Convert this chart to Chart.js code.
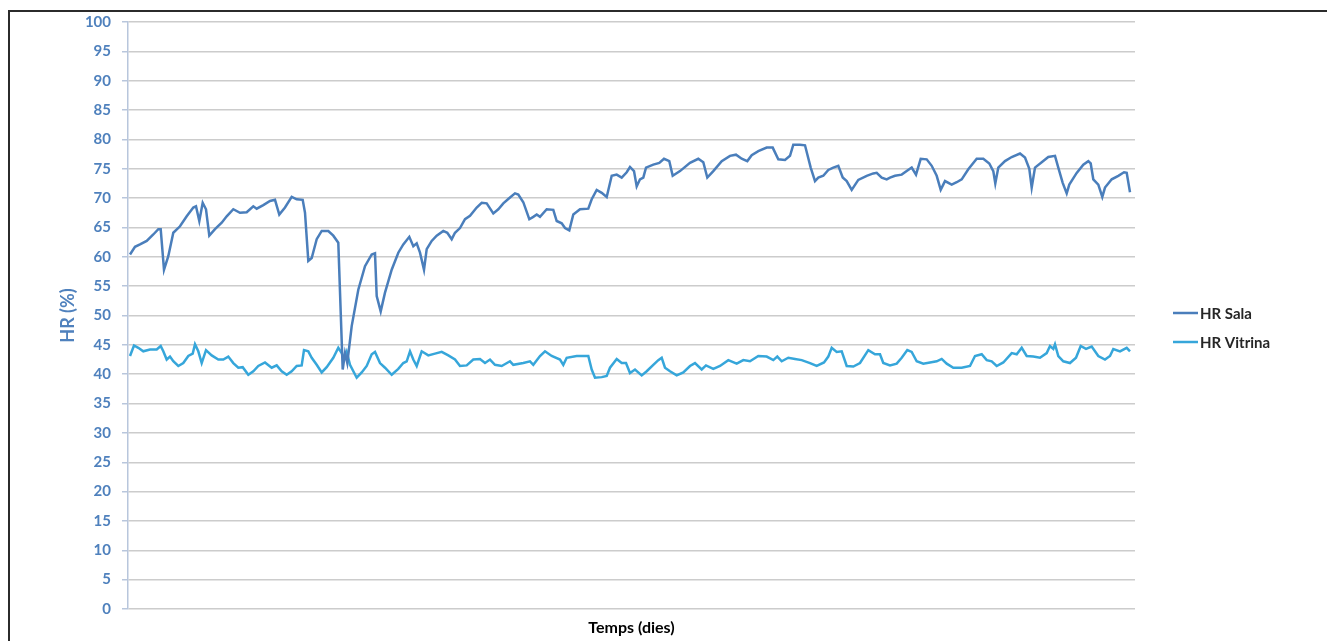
<!DOCTYPE html>
<html lang="ca">

<head>
    <meta charset="UTF-8">
    <title>HR Sala / HR Vitrina</title>
    <style>
        body {
            margin: 0;
            background: #fff;
        }
        #frame {
            position: absolute;
            left: 8px;
            top: 10px;
            width: 1400px;
            height: 700px;
            border-left: 2px solid #2b2b2b;
            border-top: 2px solid #2b2b2b;
        }
        #hrChart {
            position: absolute;
            left: 0;
            top: 0;
        }
    </style>
</head>

<body>
    <div id="frame"></div>
    <canvas id="hrChart" width="1327" height="641"></canvas>

    <script src="https://cdn.jsdelivr.net/npm/chart.js"></script>

    <script>
        // temps (dies, escala aproximada) i humitat relativa (%)
        const salaT = [0.2, 0.7, 1.2, 1.87, 2.53, 3.03, 3.27, 3.6, 4.03, 4.53, 5.2, 5.87, 6.53, 6.8, 7.13, 7.47, 7.8, 8.13, 8.7, 9.37,
            9.87, 10.53, 11.2, 11.87, 12.53, 12.87, 13.53, 14.2, 14.7, 15.13, 15.7, 16.37, 16.87, 17.47, 17.7, 18.03, 18.37, 18.87, 19.37, 20.03,
            20.53, 21.03, 21.47, 21.7, 21.93, 22.37, 23.03, 23.7, 24.37, 24.7, 24.87, 25.27, 25.7, 26.37, 27.03, 27.53, 28.13, 28.53, 28.87, 29.2,
            29.6, 29.87, 30.37, 30.87, 31.53, 31.93, 32.37, 32.7, 33.2, 33.7, 34.2, 34.87, 35.37, 35.87, 36.53, 37.03, 37.53, 38.2, 38.7, 39.03,
            39.53, 40.13, 40.53, 40.87, 41.2, 41.87, 42.53, 42.87, 43.37, 43.7, 44.13, 44.53, 45.2, 46.03, 46.37, 46.87, 47.37, 47.87, 48.37, 48.87,
            49.37, 49.87, 50.2, 50.6, 50.87, 51.2, 51.53, 51.8, 52.53, 53.13, 53.6, 54.13, 54.47, 55.2, 56.2, 57.03, 57.53, 57.93, 58.53, 59.37,
            60.2, 60.8, 61.37, 61.93, 62.37, 63.03, 63.87, 64.47, 65.03, 65.7, 66.2, 66.53, 67.2, 67.7, 68.27, 68.7, 69.03, 69.53, 70.03, 70.53,
            71.03, 71.47, 71.87, 72.37, 73.03, 73.87, 74.53, 74.87, 75.37, 75.87, 76.2, 76.7, 77.37, 77.87, 78.37, 78.8, 79.27, 79.87, 80.37, 80.87,
            81.27, 81.7, 82.37, 82.87, 83.37, 84.03, 84.87, 85.53, 86.13, 86.53, 86.73, 87.03, 87.7, 88.37, 89.2, 89.7, 90.13, 90.37, 90.7, 91.37,
            92.03, 92.7, 93.03, 93.47, 93.87, 94.13, 94.87, 95.53, 96.03, 96.27, 96.53, 97.03, 97.43, 97.7, 98.37, 99.03, 99.6, 99.87, 100.2];
        const salaHR = [60.4, 61.7, 62.1, 62.7, 63.8, 64.7, 64.7, 57.8, 60.1, 64.1, 65.2, 66.9, 68.4, 68.6, 66.1, 69.2, 68.1, 63.6, 64.7, 65.8,
            66.9, 68.1, 67.5, 67.6, 68.6, 68.2, 68.8, 69.5, 69.7, 67.2, 68.4, 70.2, 69.8, 69.7, 67.5, 59.3, 59.8, 63.0, 64.4, 64.4,
            63.6, 62.4, 40.8, 43.6, 41.9, 48.2, 54.4, 58.4, 60.4, 60.6, 53.3, 50.7, 53.9, 57.8, 60.7, 62.1, 63.4, 61.8, 62.3, 60.7,
            57.8, 61.3, 62.7, 63.6, 64.4, 64.1, 63.0, 64.1, 64.9, 66.4, 67.0, 68.4, 69.2, 69.1, 67.4, 68.1, 69.1, 70.1, 70.8, 70.6,
            69.3, 66.4, 66.8, 67.2, 66.8, 68.1, 68.0, 66.1, 65.7, 64.9, 64.5, 67.2, 68.1, 68.2, 69.8, 71.4, 70.9, 70.2, 73.8, 74.0,
            73.5, 74.4, 75.3, 74.6, 72.0, 73.2, 73.5, 75.2, 75.7, 76.0, 76.7, 76.3, 73.8, 74.6, 76.0, 76.7, 76.1, 73.5, 74.6, 76.3,
            77.2, 77.4, 76.7, 76.3, 77.3, 78.0, 78.6, 78.6, 76.6, 76.5, 77.2, 79.1, 79.1, 79.0, 75.2, 72.9, 73.5, 73.8, 74.8, 75.2,
            75.5, 73.5, 72.9, 71.4, 73.1, 73.8, 74.2, 74.3, 73.5, 73.2, 73.5, 73.8, 74.0, 74.6, 75.2, 74.0, 76.7, 76.6, 75.5, 73.8,
            71.4, 72.9, 72.3, 72.7, 73.2, 74.9, 76.7, 76.7, 75.9, 74.6, 72.5, 75.2, 76.3, 77.0, 77.6, 76.9, 75.0, 71.8, 75.2, 76.1,
            77.0, 77.2, 75.2, 72.6, 70.8, 72.3, 74.3, 75.7, 76.3, 75.9, 73.2, 72.3, 70.2, 71.8, 73.2, 73.8, 74.4, 74.3, 71.0];

        const vitT = [0.2, 0.6, 1.03, 1.53, 2.2, 2.87, 3.27, 3.53, 3.87, 4.2, 4.53, 5.03, 5.53, 6.03, 6.47, 6.7, 7.03, 7.37, 7.8, 8.37,
            9.03, 9.53, 10.03, 10.53, 11.03, 11.47, 12.03, 12.53, 13.03, 13.7, 14.37, 14.87, 15.37, 15.87, 16.37, 16.87, 17.37, 17.6, 18.03, 18.37,
            18.87, 19.37, 19.87, 20.53, 21.03, 21.37, 21.6, 21.87, 22.2, 22.87, 23.37, 23.87, 24.37, 24.7, 25.2, 25.7, 26.37, 27.03, 27.53, 27.87,
            28.2, 28.53, 28.87, 29.37, 30.03, 30.7, 31.37, 32.03, 32.7, 33.2, 33.87, 34.53, 35.2, 35.7, 36.2, 36.7, 37.37, 38.2, 38.53, 39.53,
            40.2, 40.53, 41.2, 41.7, 42.37, 43.2, 43.53, 43.87, 44.87, 46.03, 46.37, 46.7, 47.37, 47.87, 48.2, 48.87, 49.37, 49.8, 50.2, 50.7,
            51.37, 51.87, 52.53, 53.03, 53.37, 53.7, 54.2, 54.87, 55.53, 56.2, 56.7, 57.37, 57.8, 58.53, 59.2, 60.03, 60.87, 61.53, 62.2, 63.03,
            63.87, 64.53, 64.93, 65.37, 66.03, 66.7, 67.37, 68.2, 68.87, 69.6, 70.03, 70.37, 70.87, 71.37, 71.87, 72.53, 73.2, 74.03, 74.7, 75.2,
            75.53, 76.2, 76.87, 77.37, 77.93, 78.37, 78.87, 79.53, 80.2, 80.87, 81.37, 81.87, 82.53, 83.37, 84.2, 84.7, 85.37, 85.87, 86.37, 86.87,
            87.53, 88.37, 88.87, 89.37, 89.87, 90.53, 91.2, 91.87, 92.2, 92.53, 92.7, 93.03, 93.53, 94.2, 94.8, 95.27, 95.8, 96.37, 97.03, 97.7,
            98.2, 98.53, 99.2, 99.87, 100.2];
        const vitHR = [43.1, 44.9, 44.5, 43.9, 44.2, 44.2, 44.8, 43.9, 42.5, 43.0, 42.2, 41.4, 41.9, 43.1, 43.5, 45.1, 43.9, 41.9, 44.1, 43.2,
            42.5, 42.5, 43.0, 41.9, 41.1, 41.2, 39.9, 40.5, 41.4, 42.0, 41.1, 41.5, 40.5, 39.9, 40.5, 41.4, 41.5, 44.1, 43.9, 42.8,
            41.6, 40.3, 41.2, 42.8, 44.5, 43.6, 42.5, 43.8, 41.6, 39.4, 40.3, 41.4, 43.4, 43.8, 41.9, 41.1, 39.9, 40.9, 41.9, 42.2,
            43.9, 42.5, 41.4, 43.9, 43.2, 43.5, 43.8, 43.2, 42.5, 41.4, 41.5, 42.5, 42.6, 41.9, 42.5, 41.6, 41.4, 42.2, 41.6, 41.9,
            42.2, 41.6, 43.1, 43.9, 43.1, 42.5, 41.6, 42.8, 43.1, 43.1, 40.8, 39.4, 39.5, 39.7, 41.1, 42.6, 41.9, 41.9, 40.2, 40.8,
            39.8, 40.5, 41.6, 42.4, 42.8, 41.1, 40.5, 39.8, 40.3, 41.4, 41.9, 40.8, 41.5, 40.9, 41.4, 42.4, 41.8, 42.4, 42.2, 43.1,
            43.0, 42.4, 43.0, 42.2, 42.8, 42.6, 42.4, 41.9, 41.4, 42.0, 43.0, 44.5, 43.8, 43.9, 41.4, 41.3, 41.9, 44.1, 43.4, 43.4,
            41.9, 41.5, 41.8, 42.8, 44.1, 43.8, 42.2, 41.8, 42.0, 42.2, 42.6, 41.8, 41.1, 41.1, 41.4, 43.1, 43.4, 42.4, 42.2, 41.4,
            42.0, 43.6, 43.4, 44.5, 43.1, 43.0, 42.8, 43.6, 44.8, 44.3, 45.1, 43.1, 42.2, 41.9, 42.8, 44.8, 44.3, 44.7, 43.1, 42.5,
            43.1, 44.3, 43.9, 44.5, 43.9];

        const seriesNames = ['HR Sala', 'HR Vitrina'];
        const seriesColors = ['#4A7EBB', '#36A6DA'];
        const yTitle = 'HR (%)';
        const xTitle = 'Temps (dies)';

        const toPoints = (ts, vals) => ts.map((t, i) => ({ x: t, y: vals[i] }));

        // titols dels eixos i llegenda, dibuixats a ma
        const extras = {
            id: 'extras',
            afterDraw(chart) {
                const ctx = chart.ctx;
                const area = chart.chartArea;
                ctx.save();
                ctx.font = 'bold 18px Lato';
                ctx.fillStyle = '#4F81BD';
                ctx.textAlign = 'center';
                ctx.textBaseline = 'middle';
                ctx.translate(68, (area.top + area.bottom) / 2);
                ctx.rotate(-Math.PI / 2);
                ctx.fillText(yTitle, 0, 0);
                ctx.restore();

                ctx.save();
                ctx.font = 'bold 16px Lato';
                ctx.fillStyle = '#000';
                ctx.textAlign = 'center';
                ctx.textBaseline = 'middle';
                ctx.fillText(xTitle, (area.left + area.right) / 2, 628);

                ctx.textAlign = 'left';
                ctx.font = 'bold 15px Lato';
                chart.data.datasets.forEach((ds, i) => {
                    const y = 313 + i * 29;
                    ctx.strokeStyle = ds.borderColor;
                    ctx.lineWidth = 2.5;
                    ctx.beginPath();
                    ctx.moveTo(1173, y);
                    ctx.lineTo(1198, y);
                    ctx.stroke();
                    ctx.fillStyle = '#262626';
                    ctx.fillText(ds.label, 1200, y + 1);
                });
                ctx.restore();
            }
        };

        new Chart(document.getElementById('hrChart'), {
            type: 'line',
            data: {
                datasets: [{
                    label: seriesNames[0],
                    data: toPoints(salaT, salaHR),
                    borderColor: seriesColors[0],
                    borderWidth: 2.5,
                    pointRadius: 0,
                    tension: 0
                }, {
                    label: seriesNames[1],
                    data: toPoints(vitT, vitHR),
                    borderColor: seriesColors[1],
                    borderWidth: 2.5,
                    pointRadius: 0,
                    tension: 0
                }]
            },
            options: {
                responsive: false,
                animation: false,
                layout: {
                    padding: { top: 22, bottom: 32, right: 192, left: 0 }
                },
                plugins: {
                    legend: { display: false },
                    tooltip: { enabled: false }
                },
                scales: {
                    x: {
                        type: 'linear',
                        min: 0,
                        max: 100.7,
                        display: false
                    },
                    y: {
                        min: 0,
                        max: 100,
                        afterFit: (scale) => { scale.width = 128; },
                        ticks: {
                            stepSize: 5,
                            color: '#4F81BD',
                            padding: 11,
                            font: { family: 'Lato', size: 15, weight: 'bold' }
                        },
                        grid: {
                            color: '#cccccc',
                            lineWidth: 1.5,
                            tickLength: 6,
                            tickColor: '#b8c6dc'
                        },
                        border: { color: '#b8c6dc', width: 1.5 }
                    }
                }
            },
            plugins: [extras]
        });
    </script>
</body>

</html>
